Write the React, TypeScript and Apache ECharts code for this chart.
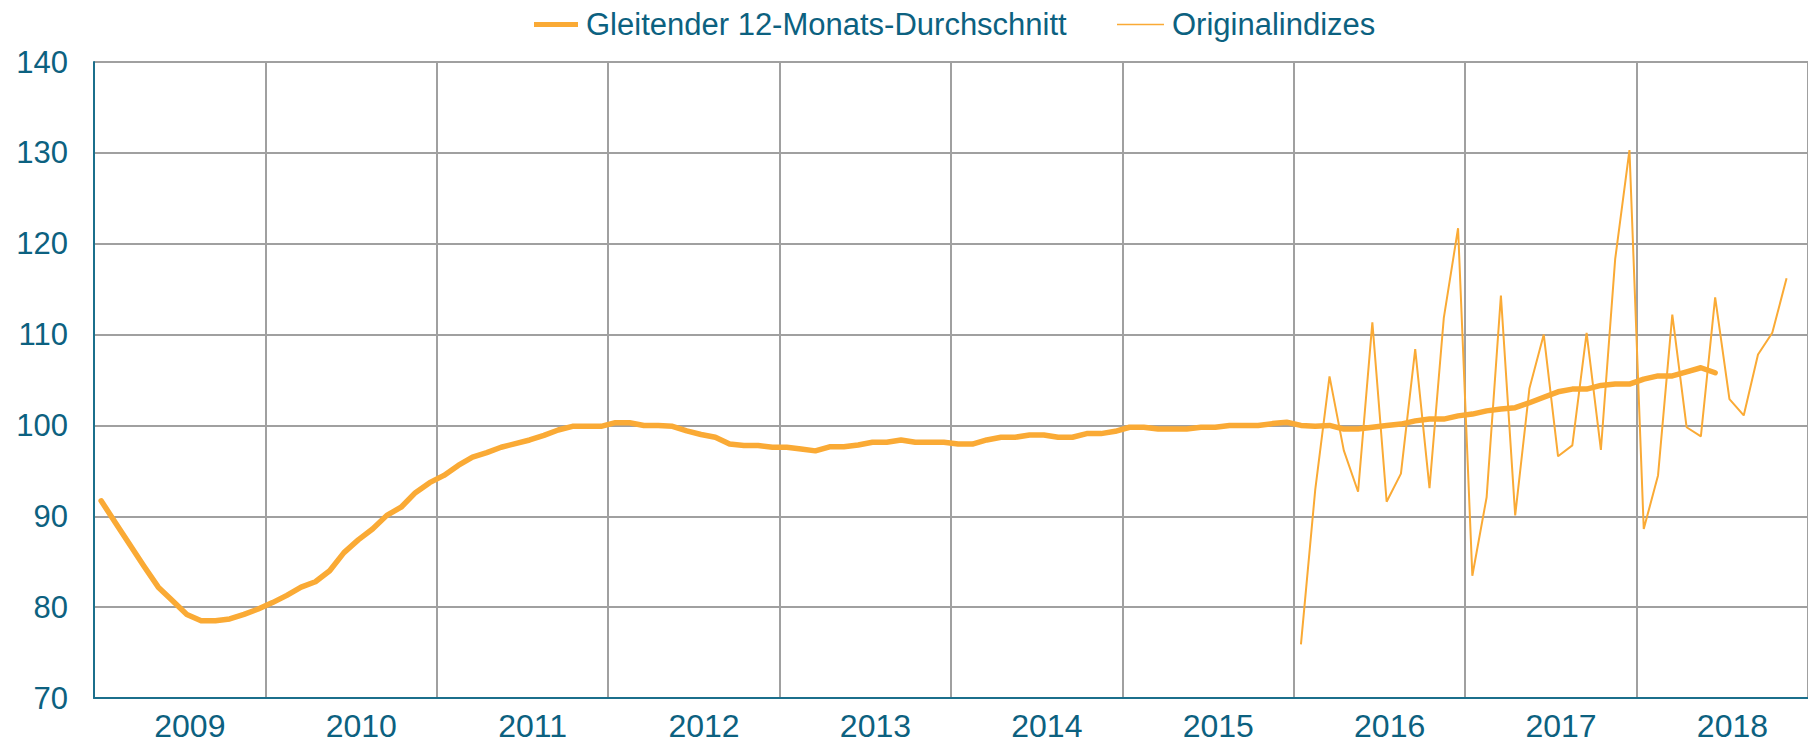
import React, { useEffect, useRef } from "react";
import * as echarts from "echarts";

const years = ["2009", "2010", "2011", "2012", "2013", "2014", "2015", "2016", "2017", "2018"];
const monthsOfYear = ["01", "02", "03", "04", "05", "06", "07", "08", "09", "10", "11", "12"];
const categories: string[] = [];
years.forEach((y) => monthsOfYear.forEach((m) => categories.push(`${y}-${m}`)));

// Gleitender 12-Monats-Durchschnitt, 2009-01 .. 2018-06
const movingAverage = [
  91.7, 89.3, 86.9, 84.5, 82.2, 80.7, 79.2, 78.5, 78.5, 78.7, 79.2, 79.8,
  80.5, 81.3, 82.2, 82.8, 84.0, 86.0, 87.4, 88.6, 90.1, 91.0, 92.6, 93.7,
  94.5, 95.6, 96.5, 97.0, 97.6, 98.0, 98.4, 98.9, 99.5, 99.9, 99.9, 99.9,
  100.3, 100.3, 100.0, 100.0, 99.9, 99.4, 99.0, 98.7, 97.95, 97.8, 97.8, 97.6,
  97.6, 97.4, 97.2, 97.65, 97.65, 97.85, 98.15, 98.15, 98.4, 98.15, 98.15, 98.15,
  97.95, 97.95, 98.4, 98.7, 98.7, 98.95, 98.95, 98.7, 98.7, 99.1, 99.1, 99.35,
  99.8, 99.8, 99.6, 99.6, 99.6, 99.8, 99.8, 100.0, 100.0, 100.0, 100.2, 100.35,
  100.0, 99.9, 100.0, 99.6, 99.6, 99.8, 100.0, 100.15, 100.5, 100.7, 100.7, 101.05,
  101.25, 101.6, 101.8, 101.95, 102.5, 103.1, 103.7, 104.0, 104.0, 104.4, 104.55, 104.55,
  105.1, 105.45, 105.45, 105.9, 106.35, 105.8,
];

// Originalindizes, 2016-01 .. 2018-11
const originalStart = "2016-01";
const originalValues = [
  75.9, 92.9, 105.4, 97.25, 92.7, 111.35, 91.6, 94.7, 108.4, 93.1, 111.8, 121.7,
  83.45, 92.1, 114.3, 90.1, 104.1, 110.0, 96.6, 97.8, 110.2, 97.3, 118.3, 130.3,
  88.6, 94.5, 112.2, 99.8, 98.8, 114.1, 102.9, 101.1, 107.8, 110.2, 116.2,
];

const yTicks = { min: 70, max: 140, interval: 10 };

const MA_NAME = "Gleitender 12-Monats-Durchschnitt";
const ORIG_NAME = "Originalindizes";

const FONT = "'Liberation Sans', Arial, sans-serif";
const TEXT = "#0c6180";
const AXIS = "#1b6f8c";
const GRID = "#a0a0a0";
const ORANGE = "#faaa35";

export default function App() {
  const ref = useRef<HTMLDivElement>(null);
  useEffect(() => {
    if (!ref.current) return;
    const chart = echarts.init(ref.current, undefined, { renderer: "svg" });
    const startIdx = categories.indexOf(originalStart);
    const originalSeries = categories.map((_, i) =>
      i >= startIdx && i - startIdx < originalValues.length ? originalValues[i - startIdx] : null
    );
    const legendText = { color: TEXT, fontSize: 31, fontFamily: FONT, padding: [0, 0, 0, 3] };
    chart.setOption({
      animation: false,
      backgroundColor: "#ffffff",
      textStyle: { fontFamily: FONT },
      legend: [
        {
          left: 529,
          top: 4,
          icon: "rect",
          itemWidth: 44,
          itemHeight: 5,
          textStyle: legendText,
          data: [MA_NAME],
        },
        {
          left: 1112,
          top: 4,
          icon: "rect",
          itemWidth: 47,
          itemHeight: 1.6,
          textStyle: legendText,
          data: [ORIG_NAME],
        },
      ],
      grid: { left: 94, top: 62, width: 1734, height: 636, containLabel: false },
      xAxis: {
        type: "category",
        data: categories,
        boundaryGap: true,
        axisLine: { show: true, lineStyle: { color: AXIS, width: 2 } },
        axisTick: { show: false },
        axisLabel: {
          interval: (i: number) => i % 12 === 6,
          formatter: (v: string) => v.slice(0, 4),
          color: TEXT,
          fontSize: 32,
          fontFamily: FONT,
          margin: 12,
          padding: [0, 0, 0, 6],
        },
        splitLine: {
          show: true,
          interval: (i: number) => i % 12 === 0,
          lineStyle: { color: GRID, width: 2 },
        },
      },
      yAxis: {
        type: "value",
        min: yTicks.min,
        max: yTicks.max,
        interval: yTicks.interval,
        axisLine: { show: true, lineStyle: { color: AXIS, width: 2 } },
        axisTick: { show: false },
        axisLabel: { color: TEXT, fontSize: 31, fontFamily: FONT, margin: 26 },
        splitLine: { show: true, lineStyle: { color: GRID, width: 2 } },
      },
      series: [
        {
          name: MA_NAME,
          type: "line",
          data: movingAverage,
          symbol: "none",
          lineStyle: { color: ORANGE, width: 5.5, cap: "round", join: "round" },
          itemStyle: { color: ORANGE },
          z: 3,
        },
        {
          name: ORIG_NAME,
          type: "line",
          data: originalSeries,
          symbol: "none",
          connectNulls: false,
          lineStyle: { color: ORANGE, width: 2 },
          itemStyle: { color: ORANGE },
          z: 2,
        },
      ],
    });
    return () => chart.dispose();
  }, []);
  return (
    <div
      ref={ref}
      style={{ position: "absolute", left: 0, top: 0, width: 1808, height: 743 }}
    />
  );
}
